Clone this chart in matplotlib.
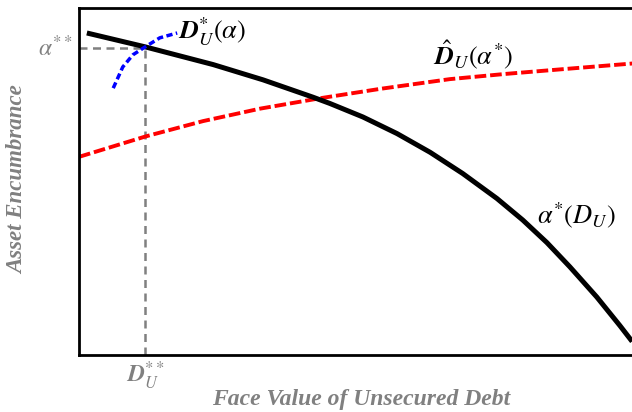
import numpy as np
import matplotlib
matplotlib.use("Agg")
import matplotlib.pyplot as plt

plt.rcParams['font.family'] = ['Liberation Serif', 'DejaVu Serif']
plt.rcParams['mathtext.fontset'] = 'stix'

# alpha*(D_U): black curve
alpha_x = [0.14, 1.18, 2.39, 3.28, 4.17, 4.47, 5.06, 5.67, 6.26, 6.84, 7.45,
           7.91, 8.34, 8.75, 9.23, 9.64, 9.86]
alpha_y = [9.28, 8.88, 8.37, 7.93, 7.43, 7.25, 6.86, 6.38, 5.84, 5.23, 4.51,
           3.89, 3.24, 2.54, 1.67, 0.85, 0.39]

# D_hat_U(alpha*): red dashed curve
dhat_x = [0.0, 1.19, 2.21, 3.23, 4.30, 5.37, 6.61, 7.60, 8.57, 9.86, 10.0]
dhat_y = [5.71, 6.30, 6.74, 7.10, 7.40, 7.67, 7.95, 8.10, 8.23, 8.40, 8.42]

# D*_U(alpha): blue dotted curve
dstar_x = [0.61, 0.78, 0.96, 1.18, 1.44, 1.75]
dstar_y = [7.69, 8.30, 8.65, 8.88, 9.14, 9.28]

# equilibrium point (D_U**, alpha**)
eq_x = 1.18
eq_y = 8.85

fig = plt.figure(figsize=(6.32, 4.12), dpi=100)
ax = fig.add_axes([79/632, 1 - 355/412, (640 - 79)/632, (355 - 8)/412])
ax.set_xlim(0, 10)
ax.set_ylim(0, 10)

ax.plot([0, eq_x], [eq_y, eq_y], color='gray', lw=1.8, dashes=(3.2, 2.2), zorder=1)
ax.plot([eq_x, eq_x], [0, eq_y], color='gray', lw=1.8, dashes=(3.2, 2.2), zorder=1)

ax.plot(alpha_x, alpha_y, color='black', lw=3.6, solid_capstyle='butt',
        solid_joinstyle='round', zorder=3)
ax.plot(dhat_x, dhat_y, color='red', lw=2.8, dashes=(3, 1), zorder=2)
ax.plot(dstar_x, dstar_y, color='blue', lw=2.5, dashes=(1.8, 1.0), zorder=4)

ax.text(8.16, 4.03, r'$\alpha^{*}(D_U)$', fontsize=19, va='center', ha='left')
ax.text(6.31, 8.62, r'$\hat{\mathbfit{D}}_U(\alpha^{*})$', fontsize=19, va='center', ha='left')
ax.text(1.76, 9.33, r'$\mathbfit{D}_U^{*}(\alpha)$', fontsize=19, va='center', ha='left')

ax.text(-0.12, eq_y, r'$\alpha^{**}$', fontsize=17, color='gray', ha='right', va='center', clip_on=False)
ax.text(eq_x, -0.15, r'$\mathbfit{D}_U^{**}$', fontsize=17, color='gray', ha='center', va='top', clip_on=False)

ax.set_xticks([])
ax.set_yticks([])
for s in ['left', 'bottom', 'top', 'right']:
    ax.spines[s].set_linewidth(2)

fig.text(361/632, 1 - 400/412, 'Face Value of Unsecured Debt', fontsize=17, color='gray',
         fontweight='bold', fontstyle='italic', ha='center', va='center')
fig.text(18/632, 1 - 180/412, 'Asset Encumbrance', fontsize=16.5, color='gray',
         fontweight='bold', fontstyle='italic', ha='center', va='center', rotation=90)

fig.savefig('out.png', dpi=100)
